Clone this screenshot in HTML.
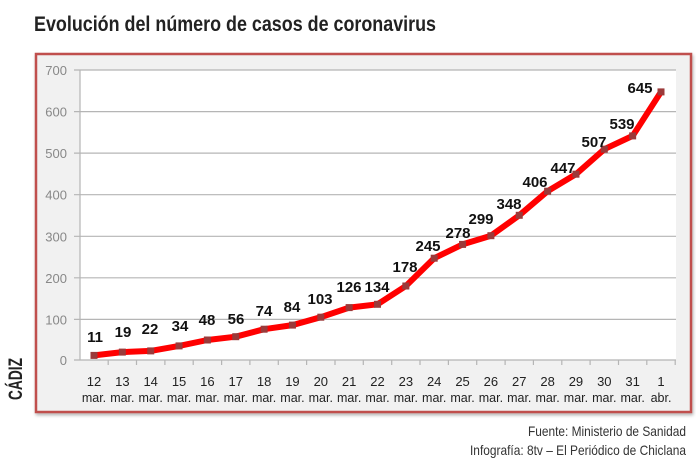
<!DOCTYPE html>
<html><head><meta charset="utf-8"><style>
html,body{margin:0;padding:0;background:#fff;}
svg{display:block;}
</style></head><body>
<svg width="696" height="472" viewBox="0 0 696 472" xmlns="http://www.w3.org/2000/svg" font-family="Liberation Sans, sans-serif">
<defs><filter id="sh" x="-5%" y="-5%" width="110%" height="110%"><feDropShadow dx="1" dy="2" stdDeviation="1.5" flood-color="#000" flood-opacity="0.3"/></filter></defs>
<text x="34" y="31" font-weight="bold" font-size="21" fill="#222" textLength="402" lengthAdjust="spacingAndGlyphs">Evolución del número de casos de coronavirus</text>
<rect x="36" y="54" width="655" height="358" fill="#f1f1f1" stroke="#c0504d" stroke-width="2.5" filter="url(#sh)"/>
<rect x="80" y="70" width="596" height="290" fill="#fff"/>
<g stroke="#b5b5b5" stroke-width="1.2">
<line x1="74" y1="70" x2="676" y2="70"/>
<line x1="74" y1="111.6" x2="676" y2="111.6"/>
<line x1="74" y1="153.1" x2="676" y2="153.1"/>
<line x1="74" y1="194.7" x2="676" y2="194.7"/>
<line x1="74" y1="236.3" x2="676" y2="236.3"/>
<line x1="74" y1="277.8" x2="676" y2="277.8"/>
<line x1="74" y1="319.4" x2="676" y2="319.4"/>
<line x1="74" y1="360" x2="676" y2="360"/>
<line x1="80" y1="70" x2="80" y2="360"/>
</g>
<g stroke="#b5b5b5" stroke-width="1.2">
<line x1="108.2" y1="360" x2="108.2" y2="365"/><line x1="136.5" y1="360" x2="136.5" y2="365"/><line x1="164.9" y1="360" x2="164.9" y2="365"/><line x1="193.2" y1="360" x2="193.2" y2="365"/><line x1="221.6" y1="360" x2="221.6" y2="365"/><line x1="249.9" y1="360" x2="249.9" y2="365"/><line x1="278.3" y1="360" x2="278.3" y2="365"/><line x1="306.6" y1="360" x2="306.6" y2="365"/><line x1="335" y1="360" x2="335" y2="365"/><line x1="363.3" y1="360" x2="363.3" y2="365"/><line x1="391.7" y1="360" x2="391.7" y2="365"/><line x1="420" y1="360" x2="420" y2="365"/><line x1="448.4" y1="360" x2="448.4" y2="365"/><line x1="476.7" y1="360" x2="476.7" y2="365"/><line x1="505.1" y1="360" x2="505.1" y2="365"/><line x1="533.4" y1="360" x2="533.4" y2="365"/><line x1="561.8" y1="360" x2="561.8" y2="365"/><line x1="590.1" y1="360" x2="590.1" y2="365"/><line x1="618.5" y1="360" x2="618.5" y2="365"/><line x1="646.8" y1="360" x2="646.8" y2="365"/><line x1="675.2" y1="360" x2="675.2" y2="365"/>
</g>
<g font-size="13" fill="#888" text-anchor="end">
<text x="67" y="75">700</text><text x="67" y="116.6">600</text><text x="67" y="158.1">500</text><text x="67" y="199.7">400</text><text x="67" y="241.3">300</text><text x="67" y="282.8">200</text><text x="67" y="324.4">100</text><text x="67" y="365">0</text>
</g>
<g font-size="13" fill="#222" text-anchor="middle">
<text x="94" y="386">12</text><text x="122.35" y="386">13</text><text x="150.7" y="386">14</text><text x="179.05" y="386">15</text><text x="207.4" y="386">16</text><text x="235.75" y="386">17</text><text x="264.1" y="386">18</text><text x="292.45" y="386">19</text><text x="320.8" y="386">20</text><text x="349.15" y="386">21</text><text x="377.5" y="386">22</text><text x="405.85" y="386">23</text><text x="434.2" y="386">24</text><text x="462.55" y="386">25</text><text x="490.9" y="386">26</text><text x="519.25" y="386">27</text><text x="547.6" y="386">28</text><text x="575.95" y="386">29</text><text x="604.3" y="386">30</text><text x="632.65" y="386">31</text><text x="661" y="386">1</text>
</g>
<g font-size="12.5" fill="#222" text-anchor="middle">
<text x="94" y="402">mar.</text><text x="122.35" y="402">mar.</text><text x="150.7" y="402">mar.</text><text x="179.05" y="402">mar.</text><text x="207.4" y="402">mar.</text><text x="235.75" y="402">mar.</text><text x="264.1" y="402">mar.</text><text x="292.45" y="402">mar.</text><text x="320.8" y="402">mar.</text><text x="349.15" y="402">mar.</text><text x="377.5" y="402">mar.</text><text x="405.85" y="402">mar.</text><text x="434.2" y="402">mar.</text><text x="462.55" y="402">mar.</text><text x="490.9" y="402">mar.</text><text x="519.25" y="402">mar.</text><text x="547.6" y="402">mar.</text><text x="575.95" y="402">mar.</text><text x="604.3" y="402">mar.</text><text x="632.65" y="402">mar.</text><text x="661" y="402">abr.</text>
</g>
<polyline fill="none" stroke="#ff0000" stroke-width="6" stroke-linejoin="round" stroke-linecap="round" points="94,355.4 122.35,352.1 150.7,350.9 179.05,345.9 207.4,340 235.75,336.7 264.1,329.2 292.45,325.1 320.8,317.2 349.15,307.6 377.5,304.3 405.85,286 434.2,258.2 462.55,244.4 490.9,235.7 519.25,215.3 547.6,191.2 575.95,174.2 604.3,149.2 632.65,135.9 661,91.9"/>
<g fill="#9b3a3a">
<rect x="90.5" y="351.9" width="7" height="7"/><rect x="118.85" y="348.6" width="7" height="7"/><rect x="147.2" y="347.4" width="7" height="7"/><rect x="175.55" y="342.4" width="7" height="7"/><rect x="203.9" y="336.5" width="7" height="7"/><rect x="232.25" y="333.2" width="7" height="7"/><rect x="260.6" y="325.7" width="7" height="7"/><rect x="288.95" y="321.6" width="7" height="7"/><rect x="317.3" y="313.7" width="7" height="7"/><rect x="345.65" y="304.1" width="7" height="7"/><rect x="374" y="300.8" width="7" height="7"/><rect x="402.35" y="282.5" width="7" height="7"/><rect x="430.7" y="254.7" width="7" height="7"/><rect x="459.05" y="240.9" width="7" height="7"/><rect x="487.4" y="232.2" width="7" height="7"/><rect x="515.75" y="211.8" width="7" height="7"/><rect x="544.1" y="187.7" width="7" height="7"/><rect x="572.45" y="170.7" width="7" height="7"/><rect x="600.8" y="145.7" width="7" height="7"/><rect x="629.15" y="132.4" width="7" height="7"/><rect x="657.5" y="88.4" width="7" height="7"/>
</g>
<g font-size="15" font-weight="bold" fill="#111" text-anchor="middle">
<text x="95" y="342">11</text><text x="123" y="337">19</text><text x="150" y="334">22</text><text x="180" y="331">34</text><text x="207" y="325">48</text><text x="236" y="324">56</text><text x="264" y="316">74</text><text x="292" y="312">84</text><text x="320" y="304">103</text><text x="349" y="292">126</text><text x="377" y="292">134</text><text x="405" y="272">178</text><text x="428" y="251">245</text><text x="458" y="238">278</text><text x="481" y="224">299</text><text x="509" y="209">348</text><text x="535" y="187">406</text><text x="563" y="173">447</text><text x="594" y="147">507</text><text x="622" y="129">539</text><text x="640" y="93">645</text>
</g>
<text transform="translate(22,379) rotate(-90)" x="-21" y="0" font-weight="bold" font-size="19" fill="#222" textLength="42" lengthAdjust="spacingAndGlyphs">CÁDIZ</text>
<g font-size="14" fill="#333">
<text x="528" y="436" textLength="158" lengthAdjust="spacingAndGlyphs">Fuente: Ministerio de Sanidad</text>
<text x="470" y="455" textLength="216" lengthAdjust="spacingAndGlyphs">Infografía: 8tv – El Periódico de Chiclana</text>
</g>
</svg>
</body></html>
